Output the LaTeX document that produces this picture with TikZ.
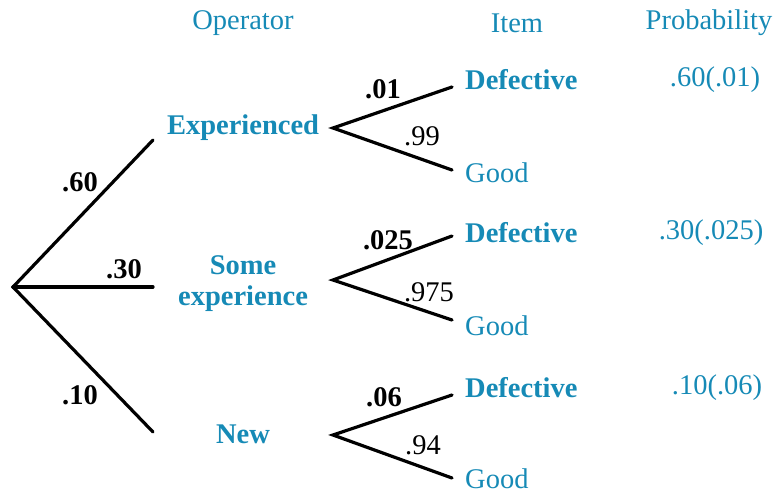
\documentclass[tikz,border=0pt]{standalone}
\usepackage{fontspec}
\setmainfont{Liberation Serif}
\definecolor{tblue}{RGB}{22,138,182}
\begin{document}
\begin{tikzpicture}[x=1pt,y=-1pt,
  txt/.style={inner sep=0pt,font=\fontsize{28.5}{32}\selectfont},
  head/.style={txt,text=tblue},
  cat/.style={txt,text=tblue,font=\fontsize{28.5}{32}\selectfont\bfseries,align=center},
  outc/.style={txt,text=tblue,anchor=west},
  outb/.style={outc,font=\fontsize{28.5}{32}\selectfont\bfseries},
  prob/.style={txt,text=tblue},
  lbb/.style={txt,font=\fontsize{28.5}{32}\selectfont\bfseries},
  lbr/.style={txt},
  branch/.style={line width=3.2pt,line cap=round,line join=miter}]
\useasboundingbox (0,0) rectangle (778,496);
% headers
\node[head] (hop) at (243,23) {Operator};
\node[head] (hit) at (517,23) {Item};
\node[head] (hpr) at (709,23) {Probability};
% root
\coordinate (root) at (13,287);
\coordinate (e1) at (153,140);
\coordinate (e2) at (153,287);
\coordinate (e3) at (153,432);
\draw[branch] (e1) -- (root) -- (e3);
\draw[branch] (root) -- (e2);
\node[lbb] (l60) at (80,182) {.60};
\node[lbb] (l30) at (124,269) {.30};
\node[lbb] (l10) at (80,395) {.10};
% operator nodes
\node[cat] (exp) at (243,128) {Experienced};
\node[cat] (some) at (243,284) {Some\\[-1pt]experience};
\node[cat] (new) at (243,434) {New};
% group 1
\coordinate (a1) at (333,128);
\coordinate (u1) at (452,87);
\coordinate (d1) at (452,170);
\draw[branch] (u1) -- (a1) -- (d1);
\node[lbb] (p01) at (383,89) {.01};
\node[lbr] (p99) at (422,136) {.99};
\node[outb] (def1) at (465,80) {Defective};
\node[outc] (good1) at (465,173) {Good};
\node[prob] (r1) at (715,80) {.60(.01)};
% group 2
\coordinate (a2) at (333,280);
\coordinate (u2) at (452,236);
\coordinate (d2) at (452,320);
\draw[branch] (u2) -- (a2) -- (d2);
\node[lbb] (p025) at (388,240) {.025};
\node[lbr] (p975) at (429,292) {.975};
\node[outb] (def2) at (465,233) {Defective};
\node[outc] (good2) at (465,326) {Good};
\node[prob] (r2) at (711,233) {.30(.025)};
% group 3
\coordinate (a3) at (333,435);
\coordinate (u3) at (452,395);
\coordinate (d3) at (452,478);
\draw[branch] (u3) -- (a3) -- (d3);
\node[lbb] (p06) at (384,397) {.06};
\node[lbr] (p94) at (423,445) {.94};
\node[outb] (def3) at (465,388) {Defective};
\node[outc] (good3) at (465,479) {Good};
\node[prob] (r3) at (717,388) {.10(.06)};
\end{tikzpicture}
\end{document}
